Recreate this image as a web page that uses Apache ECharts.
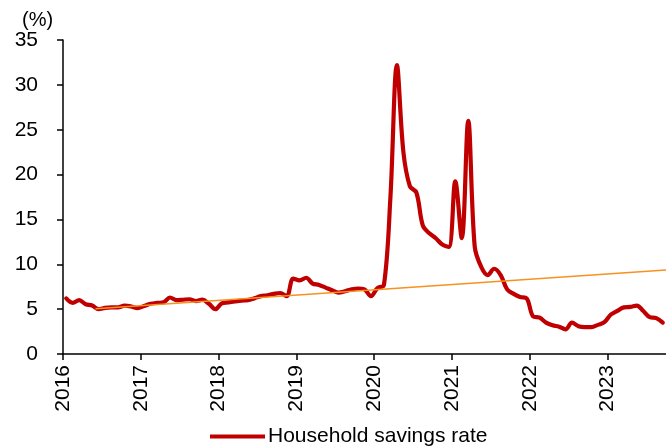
<!DOCTYPE html>
<html>
<head>
<meta charset="utf-8">
<script src="https://cdn.jsdelivr.net/npm/echarts@6/dist/echarts.min.js"></script>
<style>
  html, body { margin: 0; padding: 0; background: #ffffff; }
  #chart { width: 666px; height: 447px; }
</style>
</head>
<body>
<div id="chart"></div>
<script>
// Monthly household savings rate (%), Jan of each year through Dec (2023 ends in Sep)
const startYear = 2016;
const rate2016 = [6.2, 5.7, 6.0, 5.55, 5.4, 5.0, 5.15, 5.2, 5.2, 5.4, 5.3, 5.1];
const rate2017 = [5.35, 5.6, 5.7, 5.75, 6.3, 6.0, 6.05, 6.1, 5.9, 6.05, 5.6, 5.0];
const rate2018 = [5.65, 5.75, 5.85, 5.95, 6.0, 6.2, 6.45, 6.55, 6.7, 6.8, 6.45, 8.4];
const rate2019 = [8.2, 8.5, 7.85, 7.7, 7.4, 7.1, 6.85, 7.0, 7.2, 7.3, 7.2, 6.45];
const rate2020 = [7.35, 7.7, 17.5, 32.2, 22.5, 18.7, 18.0, 14.3, 13.45, 12.9, 12.2, 11.95];
const rate2021 = [19.25, 12.9, 26.0, 11.95, 9.7, 8.8, 9.5, 8.8, 7.2, 6.7, 6.35, 6.2];
const rate2022 = [4.2, 4.05, 3.5, 3.2, 3.05, 2.75, 3.5, 3.1, 3.0, 3.0, 3.25, 3.55];
const rate2023 = [4.4, 4.8, 5.2, 5.25, 5.4, 4.8, 4.1, 4.0, 3.5];

// Linear trend: [year, month, value] at its two ends
const trendStart = [2016, 6, 5.05];
const trendEnd = [2023, 10, 9.35];

// Year tick labels on the time axis
const yearLabels = ['2016', '2017', '2018', '2019', '2020', '2021', '2022', '2023'];

const seriesName = 'Household savings rate';

// Months elapsed since Jan 2016; monthly observations sit at mid-month
function monthsSince(year, month) {
  return (year - startYear) * 12 + (month - 1);
}

const yearly = [rate2016, rate2017, rate2018, rate2019, rate2020, rate2021, rate2022, rate2023];
const savingsData = [];
yearly.forEach(function (vals, yi) {
  vals.forEach(function (v, mi) {
    savingsData.push([monthsSince(startYear + yi, mi + 1) + 0.5, v]);
  });
});

const trendData = [
  [monthsSince(trendStart[0], trendStart[1]), trendStart[2]],
  [monthsSince(trendEnd[0], trendEnd[1]), trendEnd[2]]
];

const yearTicks = yearLabels.map(function (y) { return monthsSince(Number(y), 1); });

const FONT = "'Liberation Sans', Arial, sans-serif";
const RED = '#C00000';

const chart = echarts.init(document.getElementById('chart'), null, { renderer: 'canvas' });
chart.setOption({
  animation: false,
  backgroundColor: '#ffffff',
  title: {
    text: '(%)',
    left: 17,
    top: 5,
    textStyle: { fontFamily: FONT, fontSize: 20, fontWeight: 'normal', color: '#000000' }
  },
  grid: { left: 63, right: 0, top: 40, bottom: 93, containLabel: false },
  legend: {
    data: [{ name: seriesName, icon: 'rect' }],
    left: 205,
    top: 421,
    itemWidth: 55,
    itemHeight: 4,
    itemGap: 6,
    itemStyle: { color: RED, borderWidth: 0 },
    textStyle: { fontFamily: FONT, fontSize: 21, color: '#000000', padding: [0, 0, 0, -2] }
  },
  xAxis: {
    type: 'value',
    min: 0,
    max: monthsSince(trendEnd[0], trendEnd[1]),
    interval: 12,
    splitLine: { show: false },
    axisLine: { show: true, lineStyle: { color: '#000000', width: 1.5 } },
    axisTick: { show: true, inside: false, length: 6, customValues: yearTicks, lineStyle: { color: '#000000', width: 1.5 } },
    axisLabel: {
      customValues: yearTicks,
      rotate: 90,
      margin: 11,
      fontFamily: FONT,
      fontSize: 21,
      color: '#000000',
      formatter: function (v) { return String(startYear + Math.round(v / 12)); }
    }
  },
  yAxis: {
    type: 'value',
    min: 0,
    max: 35,
    interval: 5,
    splitLine: { show: false },
    axisLine: { show: true, lineStyle: { color: '#000000', width: 1.5 } },
    axisTick: { show: true, inside: false, length: 6, lineStyle: { color: '#000000', width: 1.5 } },
    axisLabel: { margin: 25, fontFamily: FONT, fontSize: 21, color: '#000000' }
  },
  series: [
    {
      name: seriesName,
      type: 'line',
      data: savingsData,
      symbol: 'none',
      smooth: 0.35,
      lineStyle: { color: RED, width: 4.2, join: 'round', cap: 'round' },
      itemStyle: { color: RED },
      z: 2
    },
    {
      name: 'Trend',
      type: 'line',
      data: trendData,
      symbol: 'none',
      lineStyle: { color: '#F7921E', width: 1.5 },
      itemStyle: { color: '#F7921E' },
      z: 3
    }
  ]
});
</script>
</body>
</html>
